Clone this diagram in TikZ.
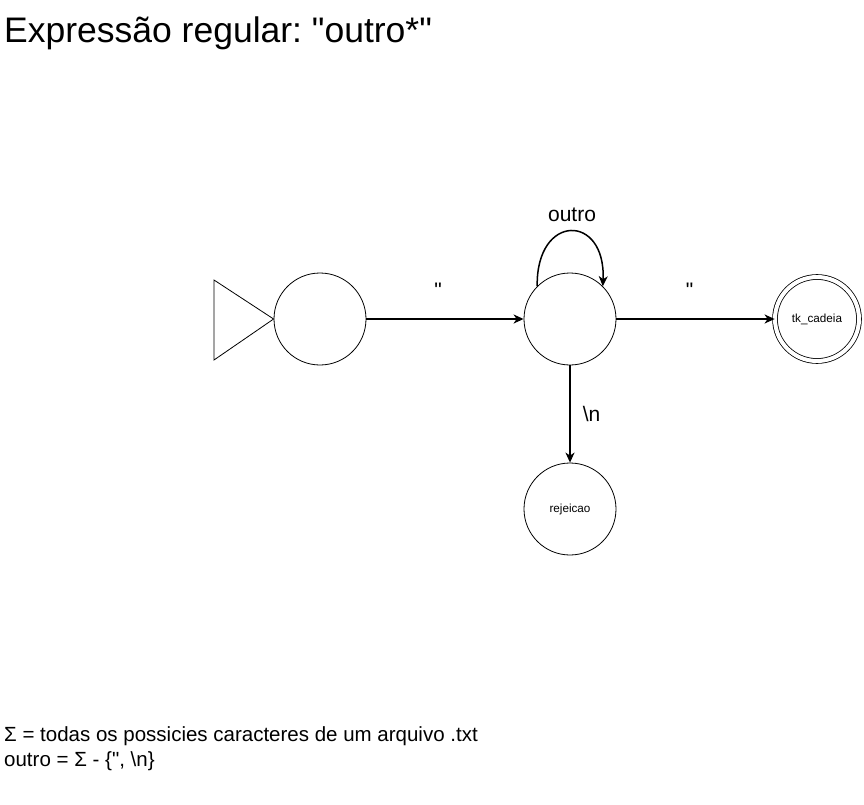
\documentclass[tikz,border=0pt]{standalone}
\usepackage{fontspec}
\setmainfont[Ligatures=NoCommon]{Liberation Sans}
\usetikzlibrary{arrows.meta}
\frenchspacing
\tikzset{
  state/.style={draw, circle, line width=0.8pt, minimum size=92pt, inner sep=0pt, font=\fontsize{11.7}{14}\selectfont},
  trans/.style={line width=1.5pt, -{Stealth[length=10pt, width=9pt, inset=3pt]}},
  lbl/.style={font=\fontsize{21}{25}\selectfont, inner sep=0pt}
}
\begin{document}
\begin{tikzpicture}[x=1pt, y=-1pt]
                    \useasboundingbox (0,0) rectangle (864,805);

                    % Marking title
                    \node [anchor=base west, inner sep=0pt, font=\fontsize{35.5}{40}\selectfont] (title) at (4,43) {Expressão regular: \textquotedbl outro*\textquotedbl};%

                    % Marking state q0 (start)
                    \node [state] (q0) at (320,319) {};%
                    \coordinate (tritop) at (214,280);%
                    \coordinate (tribot) at (214,360);%
                    \draw [line width=0.8pt] (tritop) -- (q0.west) -- (tribot) -- cycle;%

                    % Marking state q1
                    \node [state] (q1) at (570,319) {};%

                    % Marking state tk_cadeia (final)
                    \node [state, double=white, double distance=4pt, minimum size=84pt] (fim) at (817,319) {tk\_cadeia};%

                    % Marking state rejeicao
                    \node [state] (rej) at (570,509) {rejeicao};%

                    % Drawing transition q0 q1
                    \draw [trans] (q0) -- (q1) node [lbl, midway, above=21pt, xshift=-7pt] (l1) {\textquotedbl};%

                    % Drawing transition q1 q1
                    \draw [trans] (q1.135) .. controls (536,213) and (606,213) .. (q1.45);%
                    \node [lbl] (l2) at (572,215) {outro};%

                    % Drawing transition q1 fim
                    \draw [trans] (q1) -- (fim) node [lbl, midway, above=21pt, xshift=-6pt] (l3) {\textquotedbl};%

                    % Drawing transition q1 rej
                    \draw [trans] (q1) -- (rej) node [lbl, midway, right=12pt] (l4) {\textbackslash n};%

                    % Marking alphabet
                    \node [anchor=base west, inner sep=0pt, font=\fontsize{20.5}{26}\selectfont] (sigma) at (4,741)
                      {Σ = todas os possicies caracteres de um arquivo .txt};%
                    \node [anchor=base west, inner sep=0pt, font=\fontsize{20.5}{26}\selectfont] (outro) at (4,766)
                      {outro = Σ - \{\textquotedbl, \textbackslash n\}};%
\end{tikzpicture}
\end{document}
